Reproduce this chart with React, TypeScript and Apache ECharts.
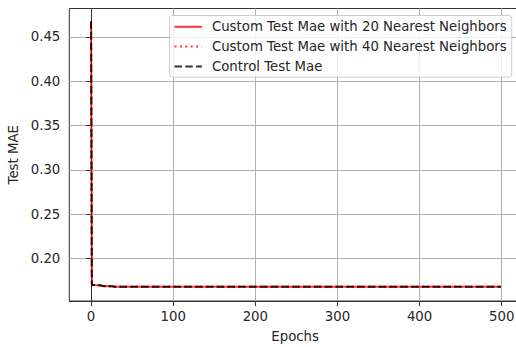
import React, { useEffect, useRef } from "react";
import * as echarts from "echarts";

const epochs = [0, 1, 3, 6, 12, 14, 26, 28, 50, 100, 200, 300, 400, 499];
const custom20 = [0.4677, 0.1699, 0.1700, 0.1697, 0.1695, 0.1686, 0.1684, 0.1679, 0.1679, 0.1679, 0.1679, 0.1679, 0.1679, 0.1679];
const custom40 = [0.4677, 0.1699, 0.1700, 0.1697, 0.1695, 0.1686, 0.1684, 0.1679, 0.1679, 0.1679, 0.1679, 0.1679, 0.1679, 0.1679];
const control = [0.4677, 0.1699, 0.1700, 0.1697, 0.1695, 0.1686, 0.1684, 0.1679, 0.1679, 0.1679, 0.1679, 0.1679, 0.1679, 0.1679];

const xTicks = [0, 100, 200, 300, 400, 500];
const yTicks = [0.2, 0.25, 0.3, 0.35, 0.4, 0.45];

const seriesNames = [
  "Custom Test Mae with 20 Nearest Neighbors",
  "Custom Test Mae with 40 Nearest Neighbors",
  "Control Test Mae",
];

const FONT = "DejaVu Sans";
const FS = 13.3;
const TEXT = "#262626";

export default function App() {
  const ref = useRef<HTMLDivElement>(null);
  useEffect(() => {
    if (!ref.current) return;
    const chart = echarts.init(ref.current, null, { renderer: "svg" });
    const pair = (vals: number[]) => epochs.map((e, i) => [e, vals[i]]);
    const axisCommon = {
      axisLine: { show: true, lineStyle: { color: "#333", width: 1 } },
      axisTick: { show: true, length: 5, lineStyle: { color: "#333", width: 1 } },
      splitLine: { show: true, lineStyle: { color: "#b0b0b0", width: 1 } },
      nameTextStyle: { fontFamily: FONT, fontSize: FS, color: TEXT },
    };
    chart.setOption({
      animation: false,
      backgroundColor: "#fff",
      grid: {
        left: 69.3,
        top: 8.5,
        right: -5,
        bottom: 46,
        containLabel: false,
        outerBoundsMode: "none",
        show: true,
        borderColor: "#333",
        borderWidth: 1,
        backgroundColor: "transparent",
      },
      xAxis: {
        type: "value",
        min: -26.5,
        max: 523.5,
        name: "Epochs",
        nameLocation: "middle",
        nameGap: 29,
        ...axisCommon,
        axisTick: { ...axisCommon.axisTick, customValues: xTicks },
        axisLabel: {
          customValues: xTicks,
          margin: 9,
          fontFamily: FONT,
          fontSize: FS,
          color: TEXT,
          formatter: (v: number) => String(v),
        },
      },
      yAxis: {
        type: "value",
        min: 0.1518,
        max: 0.4821,
        name: "Test MAE",
        nameLocation: "middle",
        nameGap: 45,
        ...axisCommon,
        axisTick: { ...axisCommon.axisTick, customValues: yTicks },
        axisLabel: {
          customValues: yTicks,
          margin: 9,
          fontFamily: FONT,
          fontSize: FS,
          color: TEXT,
          formatter: (v: number) => v.toFixed(2),
        },
      },
      legend: {
        orient: "vertical",
        left: 169.5,
        top: 15.5,
        padding: [4.8, 5, 4.2, 4],
        itemWidth: 27.4,
        itemHeight: 14,
        itemGap: 6.8,
        backgroundColor: "rgba(255,255,255,0.8)",
        borderColor: "#cccccc",
        borderWidth: 1,
        borderRadius: 3,
        itemStyle: { color: "rgba(0,0,0,0)", borderWidth: 0, opacity: 0 },
        textStyle: { fontFamily: FONT, fontSize: FS, color: TEXT, padding: [0, 0, 0, 5] },
        data: seriesNames,
      },
      series: [
        {
          name: seriesNames[0],
          type: "line",
          data: pair(custom20),
          symbol: "none",
          lineStyle: { color: "rgba(255,0,0,0.8)", width: 2, type: "solid" },
          itemStyle: { color: "rgba(255,0,0,0.8)" },
        },
        {
          name: seriesNames[1],
          type: "line",
          data: pair(custom40),
          symbol: "none",
          lineStyle: { color: "rgba(255,0,0,0.8)", width: 2, type: [2, 3.4] },
          itemStyle: { color: "rgba(255,0,0,0.8)" },
        },
        {
          name: seriesNames[2],
          type: "line",
          data: pair(control),
          symbol: "none",
          lineStyle: { color: "rgba(0,0,0,0.8)", width: 2, type: [7.5, 3.3] },
          itemStyle: { color: "rgba(0,0,0,0.8)" },
        },
      ],
    });
    return () => chart.dispose();
  }, []);
  return (
    <div
      ref={ref}
      style={{ position: "fixed", left: 0, top: 0, width: 516, height: 347 }}
    />
  );
}
